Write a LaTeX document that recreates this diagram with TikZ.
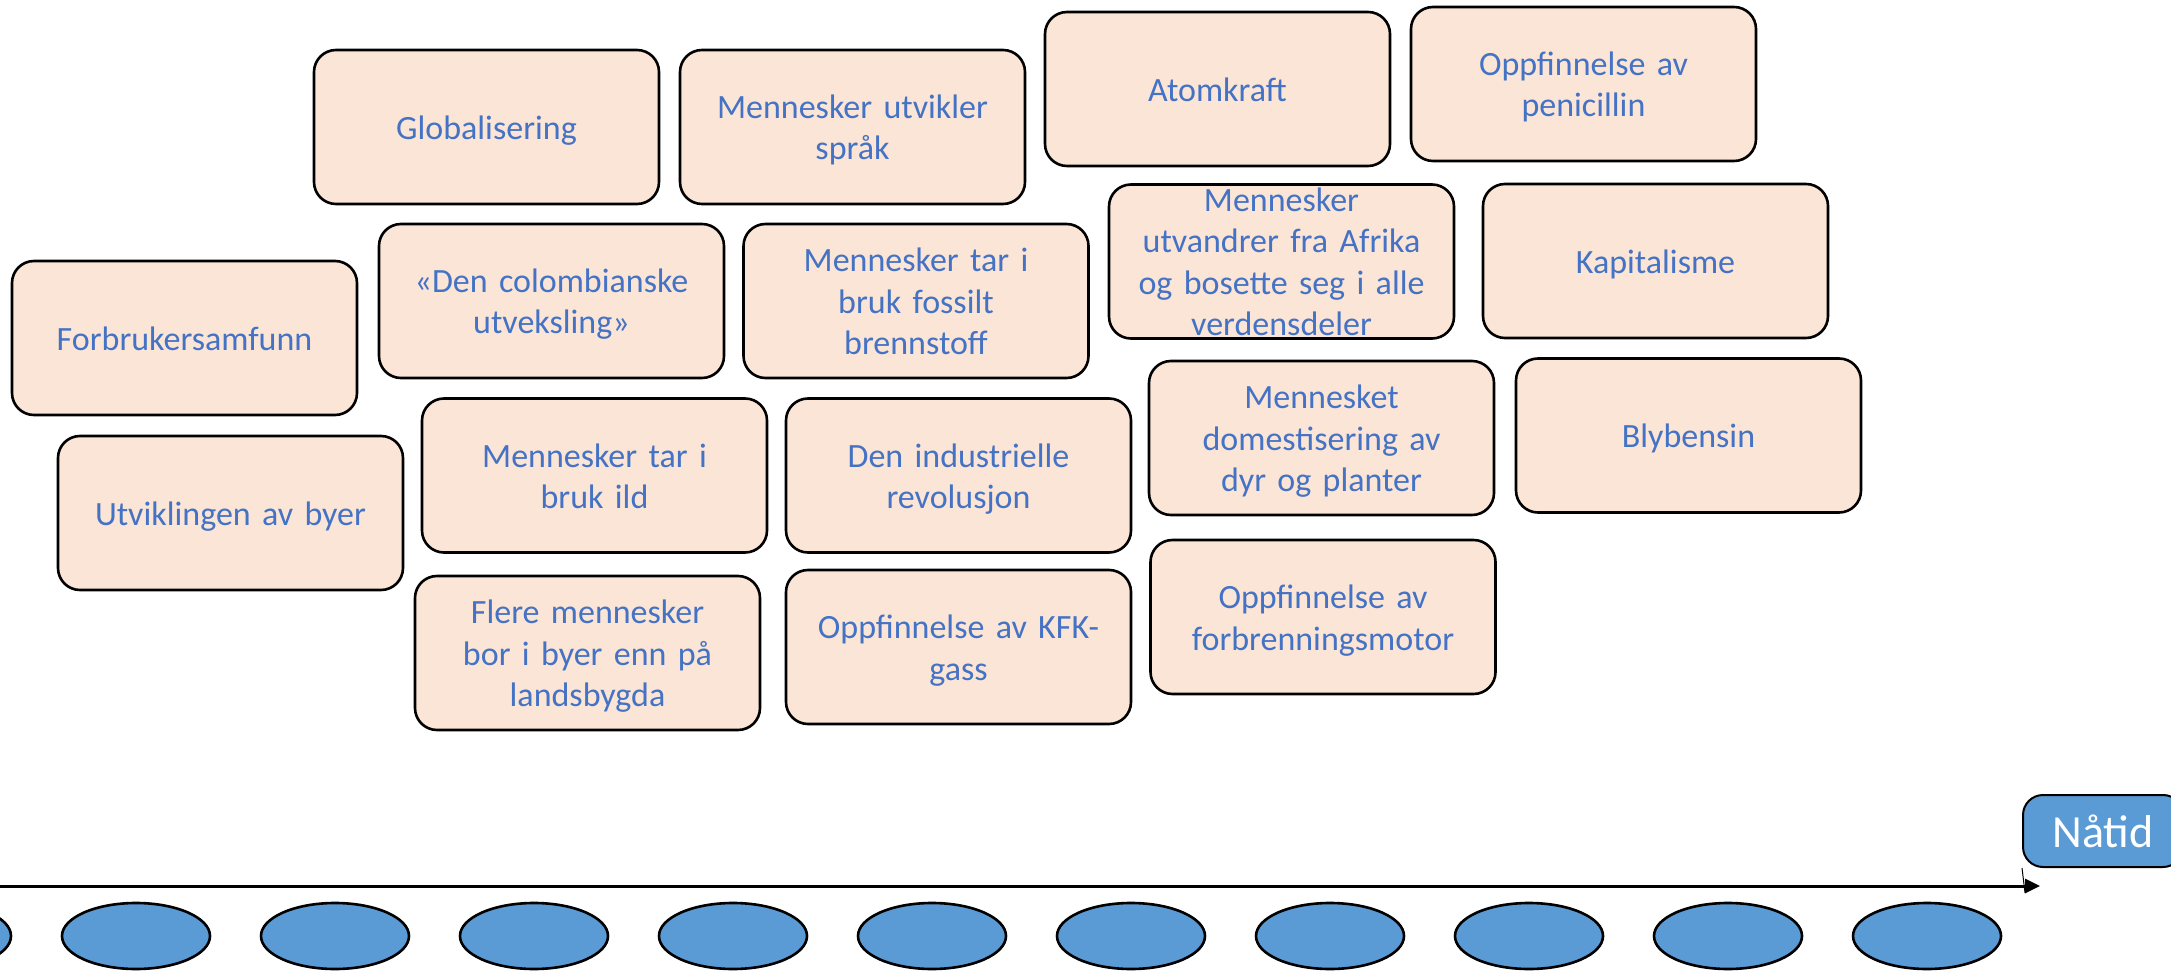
\documentclass[tikz,border=0pt]{standalone}
\usepackage{fontspec}
\setmainfont{Carlito}
\usepackage{xcolor}
\usetikzlibrary{shapes.geometric, arrows.meta, positioning}
\definecolor{boks}{HTML}{FBE5D6}
\definecolor{tekst}{HTML}{4472C4}
\definecolor{blaa}{HTML}{5B9BD5}

\begin{document}
\begin{tikzpicture}[x=0.5pt, y=-0.5pt,
	hendelse/.style={draw=black, line width=1.3pt, fill=boks, rounded corners=11pt,
		minimum width=172.5pt, minimum height=77pt, inner sep=0pt,
		text width=172.5pt, align=center,
		text=tekst, font=\fontsize{17pt}{20.75pt}\selectfont,
		execute at begin node={\rule{0pt}{16.5pt}},
		execute at end node={\rule[-4.25pt]{0pt}{4.25pt}}},
	periode/.style={ellipse, draw=black, line width=1.3pt, fill=blaa,
		minimum width=74pt, minimum height=33pt, inner sep=0pt}]
			\useasboundingbox (0,0) rectangle (2171,972);
			\clip (0,0) rectangle (2171,972);
			
			%% Hendelser, rad 1
			\node[hendelse] (glob) at (486.5,127) {Globalisering};
			\node[hendelse] (sprak) at (852.5,127) {Mennesker utvikler\\språk};
			\node[hendelse] (atom) at (1217.5,89) {Atomkraft};
			\node[hendelse] (penicillin) at (1583.5,84) {Oppfinnelse av\\penicillin};
			
			%% Hendelser, rad 2
			\node[hendelse] (forbruk) at (184.5,338) {Forbrukersamfunn};
			\node[hendelse] (colomb) at (551.5,301) {«Den colombianske\\utveksling»};
			\node[hendelse] (fossil) at (916,301) {Mennesker tar i\\bruk fossilt\\brennstoff};
			\node[hendelse, inner ysep=-3pt] (afrika) at (1281.5,261.5) {Mennesker\\utvandrer fra Afrika\\og bosette seg i alle\\verdensdeler};
			\node[hendelse] (kapital) at (1655.5,261) {Kapitalisme};
			
			%% Hendelser, rad 3
			\node[hendelse] (byer) at (230.5,513) {Utviklingen av byer};
			\node[hendelse] (ild) at (594.5,475.5) {Mennesker tar i\\bruk ild};
			\node[hendelse] (industri) at (958.5,475.5) {Den industrielle\\revolusjon};
			\node[hendelse] (domest) at (1321.5,438) {Mennesket\\domestisering av\\dyr og planter};
			\node[hendelse] (bly) at (1688.5,435.5) {Blybensin};
			
			%% Hendelser, rad 4
			\node[hendelse] (landsbygd) at (587.5,653) {Flere mennesker\\bor i byer enn på\\landsbygda};
			\node[hendelse] (kfk) at (958.5,647) {Oppfinnelse av KFK-\\gass};
			\node[hendelse] (motor) at (1323,617) {Oppfinnelse av\\forbrenningsmotor};
			
			%% Tidslinje
			\coordinate (start) at (0,886);
			\coordinate (slutt) at (2040,886);
			\draw[line width=1.5pt, -{Triangle[length=7.5pt, width=7pt]}] (start)--(slutt);
			
			%% Naatid
			\node[draw=black, line width=1pt, fill=blaa, rounded corners=10pt,
				minimum width=80pt, minimum height=36pt, text=white,
				font=\fontsize{23pt}{27pt}\selectfont] (natid) at (2103,831) {Nåtid};
			\coordinate (fot) at (2025,893);
			\draw[line width=0.5pt] (natid.south west)--(fot);
			
			%% Perioder
			\foreach \i in {-1,...,9}
				\node[periode] (per\i) at ({136+199*\i},936) {};
		\end{tikzpicture}
\end{document}
